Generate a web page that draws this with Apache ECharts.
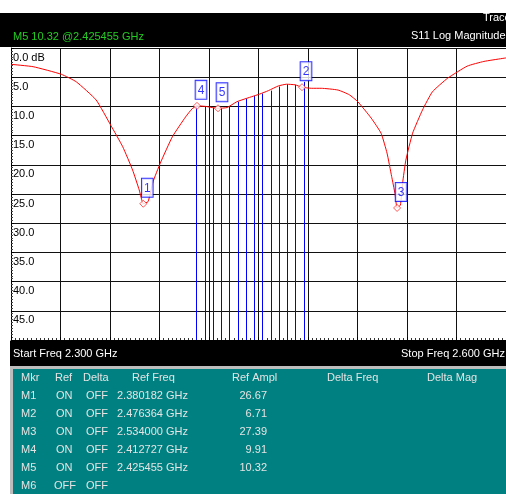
<!DOCTYPE html>
<html>
<head>
<meta charset="utf-8">
<script src="https://cdn.jsdelivr.net/npm/echarts@6/dist/echarts.min.js"></script>
<style>
  html, body { margin: 0; padding: 0; background: #fff; }
  #s11 { width: 506px; height: 494px; }
</style>
</head>
<body>
<div id="s11"></div>
<script>
// sweep 2.300 - 2.600 GHz, values are return loss in dB (drawn downwards)
const startGHz = 2.3;
const freqGHz = [2.3000, 2.3134, 2.3305, 2.3396, 2.3516, 2.3604, 2.3677, 2.3737, 2.3777, 2.3802,
  2.3831, 2.3861, 2.3905, 2.3978, 2.4058, 2.4098, 2.4127, 2.4179, 2.4219, 2.4255,
  2.4309, 2.4369, 2.4430, 2.4506, 2.4560, 2.4620, 2.4670, 2.4721, 2.4764, 2.4821,
  2.4880, 2.4982, 2.5050, 2.5102, 2.5183, 2.5243, 2.5279, 2.5307, 2.5327, 2.5340,
  2.5360, 2.5373, 2.5393, 2.5434, 2.5494, 2.5554, 2.5645, 2.5765, 2.5866, 2.5976, 2.6000];
const s11dB = [2.8, 3.2, 4.5, 5.8, 8.9, 13.2, 16.9, 20.9, 24.3, 26.67,
  26.3, 22.9, 19.7, 15.2, 11.8, 10.4, 9.91, 10.0, 10.2, 10.32,
  10.2, 9.2, 8.6, 7.9, 7.3, 6.5, 6.2, 6.3, 6.71, 6.9,
  6.9, 7.2, 8.0, 9.2, 12.0, 14.6, 18.0, 22.0, 24.9, 27.39,
  26.9, 23.2, 19.2, 14.6, 10.6, 7.5, 5.2, 3.1, 2.3, 1.8, 1.7];

// blue limit lines
const lineFreq = [2.4125, 2.4175, 2.4225, 2.4275, 2.4325, 2.4375, 2.4425,
  2.4475, 2.4525, 2.4575, 2.4625, 2.4675, 2.4725, 2.4775];
const lineTop = [9.9, 10.0, 10.2, 10.3, 10.1, 9.2, 8.7, 8.2, 7.8, 7.3, 6.6, 6.2, 6.3, 5.8];

// marker table
const mkrName = ['M1', 'M2', 'M3', 'M4', 'M5', 'M6'];
const mkrRef = ['ON', 'ON', 'ON', 'ON', 'ON', 'OFF'];
const mkrDelta = ['OFF', 'OFF', 'OFF', 'OFF', 'OFF', 'OFF'];
const mkrFreq = [2.380182, 2.476364, 2.534000, 2.412727, 2.425455];
const mkrAmpl = [26.67, 6.71, 27.39, 9.91, 10.32];

const yTicks = [0, 5, 10, 15, 20, 25, 30, 35, 40, 45];

const toX = f => (f - startGHz) * 1000;
const font = '11px "Liberation Sans", Arial, sans-serif';

let myChart = echarts.init(document.getElementById('s11'));

let graphics = [
  { type: 'rect', shape: { x: 0, y: 13, width: 506, height: 34 }, style: { fill: '#000' }, z: 0 },
  { type: 'rect', shape: { x: 10, y: 341, width: 496, height: 26 }, style: { fill: '#000' }, z: 0 },
  { type: 'rect', shape: { x: 10, y: 366, width: 496, height: 128 }, style: { fill: '#bdbdbd' }, z: 0 },
  { type: 'rect', shape: { x: 13, y: 369, width: 493, height: 125 }, style: { fill: '#008080' }, z: 0 },
  { type: 'text', x: 13, y: 37, style: { text: 'M5 10.32 @2.425455 GHz', fill: '#22cc22', font: font, verticalAlign: 'middle' } },
  { type: 'text', x: 483, y: 18, style: { text: 'Trace', fill: '#fff', font: font, verticalAlign: 'middle' } },
  { type: 'text', x: 411, y: 36, style: { text: 'S11 Log Magnitude', fill: '#fff', font: font, verticalAlign: 'middle' } },
  { type: 'text', x: 13, y: 354, style: { text: 'Start Freq 2.300 GHz', fill: '#fff', font: font, verticalAlign: 'middle' } },
  { type: 'text', x: 401, y: 354, style: { text: 'Stop Freq 2.600 GHz', fill: '#fff', font: font, verticalAlign: 'middle' } }
];

// table header
const tblColor = '#e4e4e4';
[['Mkr', 21], ['Ref', 55], ['Delta', 83], ['Ref Freq', 132], ['Ref Ampl', 232], ['Delta Freq', 327], ['Delta Mag', 427]]
  .forEach(h => {
    graphics.push({ type: 'text', x: h[1], y: 378, style: { text: h[0], fill: tblColor, font: font, verticalAlign: 'middle' } });
  });
mkrName.forEach((name, i) => {
  let y = 396 + i * 18;
  graphics.push({ type: 'text', x: 21, y: y, style: { text: name, fill: tblColor, font: font, verticalAlign: 'middle' } });
  graphics.push({ type: 'text', x: mkrRef[i] === 'ON' ? 56 : 54, y: y, style: { text: mkrRef[i], fill: tblColor, font: font, verticalAlign: 'middle' } });
  graphics.push({ type: 'text', x: 86, y: y, style: { text: mkrDelta[i], fill: tblColor, font: font, verticalAlign: 'middle' } });
  if (i < mkrFreq.length) {
    graphics.push({ type: 'text', x: 117, y: y, style: { text: mkrFreq[i].toFixed(6) + ' GHz', fill: tblColor, font: font, verticalAlign: 'middle' } });
    graphics.push({ type: 'text', x: 267, y: y, style: { text: mkrAmpl[i].toFixed(2), fill: tblColor, font: font, align: 'right', verticalAlign: 'middle' } });
  }
});

let option = {
  animation: false,
  backgroundColor: '#fff',
  grid: { left: 11, top: 48, width: 498, height: 292 },
  xAxis: {
    type: 'value', min: 0, max: 300, interval: 30,
    axisLine: { show: true, onZero: false, lineStyle: { color: '#000', width: 1 } },
    axisTick: { show: true, inside: true, length: 3, lineStyle: { color: '#000' } },
    minorTick: { show: true, splitNumber: 12, length: 2, lineStyle: { color: '#333' } },
    axisLabel: { show: false },
    splitLine: { show: true, lineStyle: { color: '#111', width: 1 } }
  },
  yAxis: {
    type: 'value', inverse: true, min: 0, max: 50, interval: 5,
    axisLine: { show: true, lineStyle: { color: '#000', width: 1 } },
    axisTick: { show: true, inside: true, length: 3, lineStyle: { color: '#000' } },
    minorTick: { show: true, splitNumber: 10, length: 2, lineStyle: { color: '#444' } },
    axisLabel: {
      inside: true, margin: 2, color: '#000', fontSize: 11,
      fontFamily: '"Liberation Sans", Arial, sans-serif',
      verticalAlign: 'top', padding: [4, 0, 0, 0],
      showMinLabel: true, showMaxLabel: false,
      formatter: v => yTicks.indexOf(v) < 0 ? '' : (v === 0 ? '0.0 dB' : v.toFixed(1))
    },
    splitLine: { show: true, lineStyle: { color: '#111', width: 1 } }
  },
  graphic: graphics,
  series: [
    {
      type: 'line',
      z: 3,
      data: freqGHz.map((f, i) => [toX(f), s11dB[i]]),
      showSymbol: false,
      smooth: 0.15,
      lineStyle: { color: '#ff0000', width: 1 },
      markLine: {
        silent: true,
        symbol: ['none', 'none'],
        z: 2,
        label: { show: false },
        lineStyle: { color: '#0000ff', width: 1, type: 'solid' },
        data: lineFreq.map((f, i) => [
          { coord: [toX(f), lineTop[i]] },
          { coord: [toX(f), 50] }
        ])
      }
    },
    {
      type: 'scatter',
      z: 4,
      data: mkrFreq.map((f, i) => [toX(f), mkrAmpl[i]]),
      symbol: 'diamond',
      symbolSize: 7,
      itemStyle: { color: '#fff', borderColor: '#ff3030', borderWidth: 1 },
      label: {
        show: true, position: 'top', distance: 3, offset: [4, 0],
        formatter: p => String(p.dataIndex + 1),
        color: '#0000ff', fontSize: 12, fontFamily: '"Liberation Sans", Arial, sans-serif',
        backgroundColor: '#fff', borderColor: '#0000ff', borderWidth: 1,
        padding: [2, 2, 1, 2], lineHeight: 15
      }
    }
  ]
};

myChart.setOption(option);
</script>
</body>
</html>
